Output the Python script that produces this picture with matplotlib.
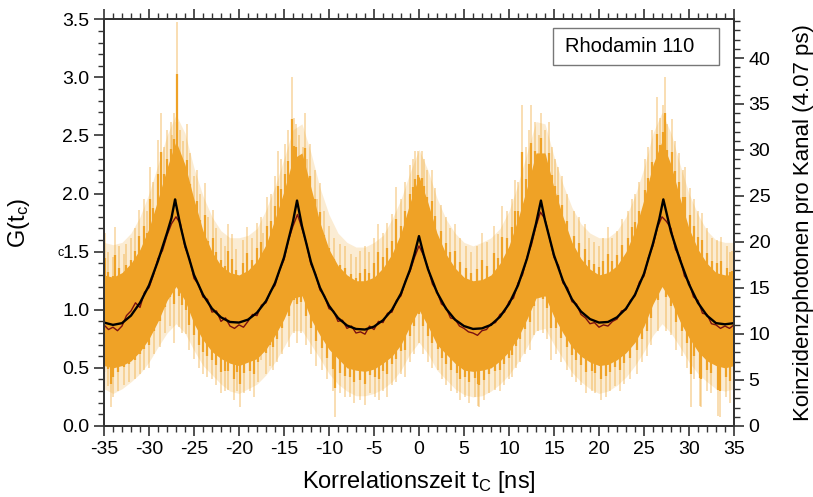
import numpy as np
import matplotlib
matplotlib.use("Agg")
import matplotlib.pyplot as plt
from matplotlib.ticker import MultipleLocator
from matplotlib.patches import Rectangle

plt.rcParams['font.family'] = ['Liberation Sans', 'DejaVu Sans']
plt.rcParams['mathtext.fontset'] = 'custom'
plt.rcParams['mathtext.rm'] = 'Liberation Sans'
plt.rcParams['mathtext.it'] = 'Liberation Sans'
plt.rcParams['axes.unicode_minus'] = False

# counts per channel -> normalised G(t)
g_per_count = 0.07917

# fitted correlation function (ns, G)
fit_t = [-35, -34, -33, -32, -31, -30, -29, -28, -27.5, -27.1, -27, -26.5, -26, -25, -24, -23,
         -22, -21, -20, -19, -18, -17, -16, -15, -14, -13.55, -13, -12, -11, -10, -9, -8,
         -7, -6, -5, -4, -3, -2, -1, -0.5, 0, 0.5, 1, 2, 3, 4, 5, 6, 7, 8, 9, 10, 11, 12,
         13, 13.55, 14, 15, 16, 17, 18, 19, 20, 21, 22, 23, 24, 25, 26, 26.7, 27.15, 28,
         29, 30, 31, 32, 33, 34, 35]
fit_g = [0.89, 0.87, 0.885, 0.95, 1.06, 1.21, 1.42, 1.66, 1.79, 1.95, 1.91, 1.72, 1.56, 1.30,
         1.13, 1.01, 0.935, 0.895, 0.89, 0.915, 0.975, 1.075, 1.23, 1.45, 1.76, 1.94, 1.72,
         1.41, 1.19, 1.035, 0.93, 0.865, 0.835, 0.83, 0.855, 0.91, 1.00, 1.14, 1.345, 1.48,
         1.634, 1.48, 1.35, 1.15, 1.01, 0.915, 0.86, 0.835, 0.84, 0.87, 0.94, 1.05, 1.21,
         1.44, 1.74, 1.94, 1.77, 1.47, 1.25, 1.09, 0.985, 0.92, 0.89, 0.895, 0.935, 1.01,
         1.13, 1.31, 1.57, 1.78, 1.95, 1.67, 1.43, 1.22, 1.06, 0.95, 0.885, 0.875, 0.885]

# smoothed measurement, every 0.5 ns from -35 to 35
smooth_t = np.arange(-35, 35.01, 0.5)
smooth_g = [0.87, 0.83, 0.85, 0.82, 0.86, 0.95, 0.99, 1.06, 1.02, 1.15, 1.19, 1.30, 1.44, 1.51,
            1.64, 1.74, 1.80, 1.74, 1.54, 1.44, 1.27, 1.22, 1.11, 1.09, 0.98, 0.99, 0.90, 0.93,
            0.86, 0.84, 0.87, 0.85, 0.90, 0.96, 0.95, 1.04, 1.06, 1.16, 1.21, 1.34, 1.43, 1.60,
            1.72, 1.82, 1.70, 1.57, 1.39, 1.31, 1.17, 1.12, 1.01, 0.99, 0.90, 0.91, 0.84, 0.86,
            0.80, 0.81, 0.79, 0.86, 0.83, 0.90, 0.89, 0.97, 0.98, 1.08, 1.12, 1.25, 1.33, 1.45,
            1.55, 1.47, 1.36, 1.22, 1.16, 1.05, 1.02, 0.93, 0.92, 0.86, 0.84, 0.81, 0.80, 0.78,
            0.82, 0.83, 0.88, 0.89, 0.96, 0.98, 1.07, 1.10, 1.23, 1.30, 1.45, 1.56, 1.72, 1.84,
            1.78, 1.62, 1.45, 1.38, 1.23, 1.19, 1.07, 1.05, 0.96, 0.93, 0.88, 0.89, 0.85, 0.87,
            0.86, 0.90, 0.92, 0.99, 1.00, 1.08, 1.12, 1.24, 1.29, 1.45, 1.55, 1.71, 1.80, 1.76,
            1.70, 1.52, 1.45, 1.29, 1.24, 1.11, 1.08, 0.97, 0.96, 0.88, 0.87, 0.84, 0.86, 0.84,
            0.87]

# spread of the raw histogram, per ns
band_t = np.arange(-35, 36)
core_hi = [1.30, 1.28, 1.32, 1.40, 1.52, 1.70, 1.95, 2.22, 2.45, 2.25, 1.95, 1.68, 1.50, 1.38,
           1.32, 1.30, 1.34, 1.42, 1.56, 1.78, 2.02, 2.30, 2.35, 2.05, 1.75, 1.52, 1.38, 1.30,
           1.25, 1.25, 1.28, 1.36, 1.48, 1.66, 1.92, 2.15, 1.92, 1.66, 1.48, 1.36, 1.28, 1.25,
           1.26, 1.30, 1.40, 1.55, 1.78, 2.05, 2.35, 2.35, 2.05, 1.80, 1.58, 1.44, 1.35, 1.30,
           1.32, 1.38, 1.50, 1.68, 1.95, 2.25, 2.45, 2.25, 1.96, 1.70, 1.52, 1.40, 1.32, 1.30,
           1.30]
core_lo = [0.52, 0.50, 0.52, 0.56, 0.64, 0.75, 0.90, 1.08, 1.20, 1.08, 0.88, 0.74, 0.64, 0.58,
           0.54, 0.52, 0.55, 0.58, 0.66, 0.78, 0.92, 1.10, 1.12, 0.92, 0.78, 0.66, 0.58, 0.50,
           0.48, 0.47, 0.49, 0.54, 0.60, 0.70, 0.86, 1.00, 0.86, 0.70, 0.62, 0.54, 0.48, 0.47,
           0.48, 0.50, 0.56, 0.64, 0.76, 0.92, 1.10, 1.12, 0.94, 0.80, 0.68, 0.60, 0.55, 0.52,
           0.53, 0.57, 0.63, 0.72, 0.86, 1.05, 1.20, 1.08, 0.90, 0.76, 0.64, 0.56, 0.52, 0.50,
           0.52]
outer_hi = [1.58, 1.56, 1.58, 1.66, 1.80, 2.00, 2.25, 2.50, 2.68, 2.52, 2.22, 1.98, 1.80, 1.68,
            1.62, 1.62, 1.64, 1.70, 1.86, 2.06, 2.30, 2.55, 2.60, 2.35, 2.05, 1.82, 1.66, 1.58,
            1.54, 1.54, 1.58, 1.64, 1.78, 1.95, 2.18, 2.38, 2.20, 1.96, 1.78, 1.66, 1.58, 1.55,
            1.58, 1.62, 1.70, 1.85, 2.08, 2.35, 2.62, 2.60, 2.32, 2.08, 1.88, 1.74, 1.66, 1.62,
            1.62, 1.68, 1.80, 1.98, 2.22, 2.52, 2.70, 2.52, 2.25, 2.00, 1.82, 1.68, 1.60, 1.58,
            1.58]
outer_lo = [0.32, 0.28, 0.32, 0.38, 0.45, 0.55, 0.68, 0.80, 0.88, 0.80, 0.65, 0.52, 0.44, 0.36,
            0.30, 0.28, 0.32, 0.36, 0.44, 0.55, 0.68, 0.82, 0.82, 0.70, 0.58, 0.45, 0.36, 0.30,
            0.26, 0.26, 0.28, 0.32, 0.38, 0.48, 0.62, 0.72, 0.62, 0.48, 0.40, 0.32, 0.27, 0.25,
            0.26, 0.30, 0.36, 0.44, 0.55, 0.68, 0.82, 0.84, 0.70, 0.58, 0.46, 0.38, 0.32, 0.28,
            0.30, 0.35, 0.42, 0.52, 0.64, 0.78, 0.88, 0.80, 0.68, 0.55, 0.45, 0.38, 0.32, 0.30,
            0.32]

# single channels sticking out of the band
spike_up_t = [-34.9, -34.5, -34.0, -33.8, -33.3, -32.8, -32.5, -32.0, -31.6, -31.1, -30.5, -30.2,
              -29.9, -29.5, -29.0, -28.67, -28.3, -28.0, -27.6, -27.4, -27.2, -26.92, -26.9,
              -26.5, -26.2, -25.74, -25.4, -25.0, -24.7, -24.3, -23.8, -23.4, -22.9, -22.5,
              -22.0, -21.6, -21.2, -20.8, -20.3, -19.6, -19.1, -18.6, -18.0, -17.6, -17.3,
              -16.9, -16.4, -16.0, -15.7, -15.3, -14.9, -14.6, -14.15, -13.9, -13.67, -13.3,
              -12.9, -12.67, -12.4, -12.1, -11.6, -11.3, -11.0, -10.5, -10.0, -9.4, -8.8, -8.2,
              -7.6, -7.0, -6.55, -6.0, -5.5, -5.0, -4.5, -4.0, -3.5, -3.0, -2.5, -2.0, -1.6,
              -1.0, -0.7, -0.44, -0.07, 0.3, 0.6, 0.9, 1.4, 1.8, 2.4, 3.0, 3.5, 4.0, 4.6, 5.2,
              5.8, 6.4, 7.0, 7.6, 8.3, 8.8, 9.2, 9.8, 10.3, 10.7, 11.0, 11.5, 11.9, 12.2, 12.5,
              12.9, 13.3, 13.6, 14.0, 14.4, 14.8, 15.1, 15.5, 15.9, 16.5, 17.2, 17.8, 18.4,
              18.9, 19.5, 20.0, 20.5, 21.0, 21.5, 22.0, 22.6, 23.2, 23.7, 24.0, 24.5, 25.1,
              25.5, 25.9, 26.4, 26.8, 27.1, 27.3, 27.6, 28.1, 28.5, 28.9, 29.3, 29.6, 30.1,
              30.6, 31.0, 31.4, 32.0, 32.6, 33.1, 33.6, 34.2, 34.6, 34.8]
spike_up_g = [1.66, 1.50, 1.45, 1.71, 1.55, 1.48, 1.57, 1.62, 1.70, 1.86, 1.95, 1.85, 2.23,
              2.10, 2.46, 2.69, 2.40, 2.55, 2.62, 2.50, 2.69, 3.48, 2.90, 2.55, 2.45, 2.60,
              2.35, 2.15, 2.20, 2.00, 2.09, 1.80, 1.86, 1.70, 1.62, 1.55, 1.74, 1.65, 1.52,
              1.60, 1.71, 1.62, 1.75, 1.80, 1.66, 1.97, 2.00, 2.15, 2.37, 2.30, 2.43, 2.55,
              3.00, 2.65, 2.60, 2.50, 2.40, 2.69, 2.30, 2.43, 2.20, 1.95, 2.09, 1.85, 1.72,
              1.62, 1.57, 1.55, 1.48, 1.45, 1.51, 1.55, 1.50, 1.62, 1.74, 1.66, 1.75, 1.82,
              2.06, 1.95, 2.10, 2.25, 2.30, 2.37, 2.37, 2.37, 2.30, 2.20, 2.20, 2.05, 1.90,
              1.80, 1.70, 1.74, 1.62, 1.55, 1.50, 1.55, 1.66, 1.58, 1.72, 1.65, 1.89, 1.85,
              1.95, 2.12, 2.10, 2.76, 2.40, 2.55, 2.76, 2.62, 2.50, 2.69, 2.55, 2.62, 2.40,
              2.30, 2.23, 2.15, 2.00, 1.85, 1.80, 1.74, 1.62, 1.58, 1.55, 1.62, 1.71, 1.62,
              1.68, 1.78, 1.85, 1.95, 2.00, 2.10, 2.30, 2.40, 2.55, 2.83, 2.65, 2.76, 3.00,
              2.60, 2.64, 2.45, 2.35, 2.20, 2.23, 2.05, 1.95, 1.85, 1.83, 1.70, 1.62, 1.60,
              1.63, 1.55, 1.50, 1.51]
spike_dn_t = [-35.0, -34.6, -34.2, -34.0, -33.4, -32.8, -32.2, -31.5, -31.0, -30.6, -30.0, -29.4,
              -28.8, -28.2, -27.7, -27.2, -26.7, -26.3, -25.9, -25.5, -25.0, -24.4, -24.0,
              -23.6, -23.0, -22.5, -22.0, -21.6, -21.2, -20.6, -20.2, -19.9, -19.4, -18.8,
              -18.3, -17.9, -17.5, -17.0, -16.6, -16.2, -15.8, -15.2, -14.4, -13.9, -13.5,
              -13.1, -12.5, -12.0, -11.4, -10.8, -10.2, -9.6, -9.3, -8.8, -8.2, -7.7, -7.2,
              -6.6, -6.0, -5.4, -4.9, -4.4, -4.0, -3.5, -3.0, -2.5, -2.0, -1.5, -1.0, -0.5,
              0.04, 0.5, 1.0, 1.5, 2.1, 2.6, 3.0, 3.6, 4.2, 4.6, 5.1, 5.6, 6.2, 6.6, 6.7, 7.2,
              7.8, 8.5, 9.0, 9.5, 10.0, 10.3, 10.8, 11.2, 11.8, 12.3, 12.8, 13.2, 13.8, 14.2,
              14.7, 15.2, 15.8, 16.4, 17.0, 17.5, 18.0, 18.6, 19.2, 19.6, 20.2, 20.8, 21.2,
              21.8, 22.3, 22.8, 23.5, 24.2, 24.8, 25.3, 25.8, 26.6, 27.4, 28.0, 28.6, 29.2,
              29.8, 30.2, 30.6, 31.2, 31.3, 32.0, 32.5, 33.26, 33.4, 34.1, 34.6]
spike_dn_g = [0.30, 0.34, 0.16, 0.25, 0.30, 0.35, 0.38, 0.40, 0.45, 0.48, 0.50, 0.62, 0.68,
              0.80, 0.86, 0.71, 0.85, 0.80, 0.79, 0.65, 0.58, 0.50, 0.45, 0.42, 0.40, 0.35,
              0.28, 0.30, 0.31, 0.22, 0.30, 0.16, 0.28, 0.30, 0.25, 0.38, 0.57, 0.45, 0.52,
              0.48, 0.55, 0.62, 0.68, 0.80, 0.71, 0.80, 0.70, 0.62, 0.52, 0.48, 0.40, 0.30,
              0.08, 0.28, 0.25, 0.25, 0.20, 0.22, 0.18, 0.28, 0.25, 0.22, 0.30, 0.25, 0.35,
              0.38, 0.45, 0.42, 0.55, 0.62, 0.71, 0.62, 0.55, 0.50, 0.48, 0.40, 0.35, 0.30,
              0.28, 0.22, 0.25, 0.20, 0.25, 0.17, 0.16, 0.22, 0.28, 0.31, 0.30, 0.35, 0.40,
              0.42, 0.50, 0.55, 0.62, 0.65, 0.78, 0.82, 0.80, 0.75, 0.57, 0.62, 0.55, 0.48,
              0.42, 0.38, 0.35, 0.28, 0.30, 0.28, 0.22, 0.25, 0.30, 0.34, 0.30, 0.36, 0.40,
              0.45, 0.55, 0.60, 0.70, 0.82, 0.82, 0.78, 0.65, 0.60, 0.50, 0.16, 0.40, 0.17,
              0.16, 0.30, 0.28, 0.085, 0.08, 0.25, 0.20]

orange = '#efa226'
fig = plt.figure(figsize=(8.13, 4.97), dpi=100)
ax = fig.add_axes([0.1279, 0.1429, 0.7749, 0.8183])

ax.fill_between(band_t, outer_lo, outer_hi, color=orange, alpha=0.2, lw=0)
base_up = np.interp(spike_up_t, fit_t, fit_g)
base_dn = np.interp(spike_dn_t, fit_t, fit_g)
# faint full-length strokes plus a solid lower part, like overlapping channels
ax.vlines(spike_up_t, base_up, spike_up_g, color=orange, alpha=0.45, lw=1.1)
ax.vlines(spike_dn_t, spike_dn_g, base_dn, color=orange, alpha=0.45, lw=1.1)
mid_up = [b + 0.72 * (s - b) for b, s in zip(base_up, spike_up_g)]
mid_dn = [b - 0.72 * (b - s) for b, s in zip(base_dn, spike_dn_g)]
ax.vlines(spike_up_t, base_up, mid_up, color=orange, lw=1.6)
ax.vlines(spike_dn_t, mid_dn, base_dn, color=orange, lw=1.6)
ax.fill_between(band_t, core_lo, core_hi, color=orange, lw=0)
ax.plot(smooth_t, smooth_g, color='#7a1010', lw=1.0)
ax.plot(fit_t, fit_g, color='black', lw=1.7)

ax.set_xlim(-35, 35)
ax.set_ylim(0, 3.5)
ax.xaxis.set_major_locator(MultipleLocator(5))
ax.xaxis.set_minor_locator(MultipleLocator(1))
ax.yaxis.set_major_locator(MultipleLocator(0.5))
ax.yaxis.set_minor_locator(MultipleLocator(0.1))
ax.yaxis.set_major_formatter(lambda v, p: f'{v:.1f}')
ax.tick_params(which='both', direction='out', top=True, labelsize=14, color='#333333')
ax.tick_params(which='major', length=7, width=1.2)
ax.tick_params(which='minor', length=4, width=1.0)
for s in ax.spines.values():
    s.set_linewidth(1.3)
    s.set_color('#333333')

# right axis in raw counts
ax2 = ax.twinx()
ax2.set_ylim(0, 3.5 / g_per_count)
ax2.yaxis.set_major_locator(MultipleLocator(5))
ax2.yaxis.set_minor_locator(MultipleLocator(1))
ax2.tick_params(which='both', direction='out', labelsize=14, color='#333333')
ax2.tick_params(which='major', length=7, width=1.2)
ax2.tick_params(which='minor', length=4, width=1.0)
for s in ax2.spines.values():
    s.set_linewidth(1.3)
    s.set_color('#333333')

ax.set_xlabel(r'Korrelationszeit t$_\mathregular{C}$ [ns]', fontsize=17, labelpad=8)
ax.set_ylabel(r'G(t$_\mathregular{c}$)', fontsize=17, labelpad=22)
ax2.set_ylabel('Koinzidenzphotonen pro Kanal (4.07 ps)', fontsize=16, labelpad=16)
ax.annotate('c', xy=(0, 1.5), xycoords=('axes fraction', 'data'), xytext=(-31.5, -1),
            textcoords='offset points', fontsize=9, ha='center', va='center')

ax.add_patch(Rectangle((0.7127, 0.8876), 0.2635, 0.091, transform=ax.transAxes,
                       facecolor='white', edgecolor='#777777', lw=1.0, zorder=5))
ax.text(0.7317, 0.933, 'Rhodamin 110', transform=ax.transAxes, fontsize=14.5,
        va='center', ha='left', zorder=6)

fig.savefig('out.png', dpi=100)
